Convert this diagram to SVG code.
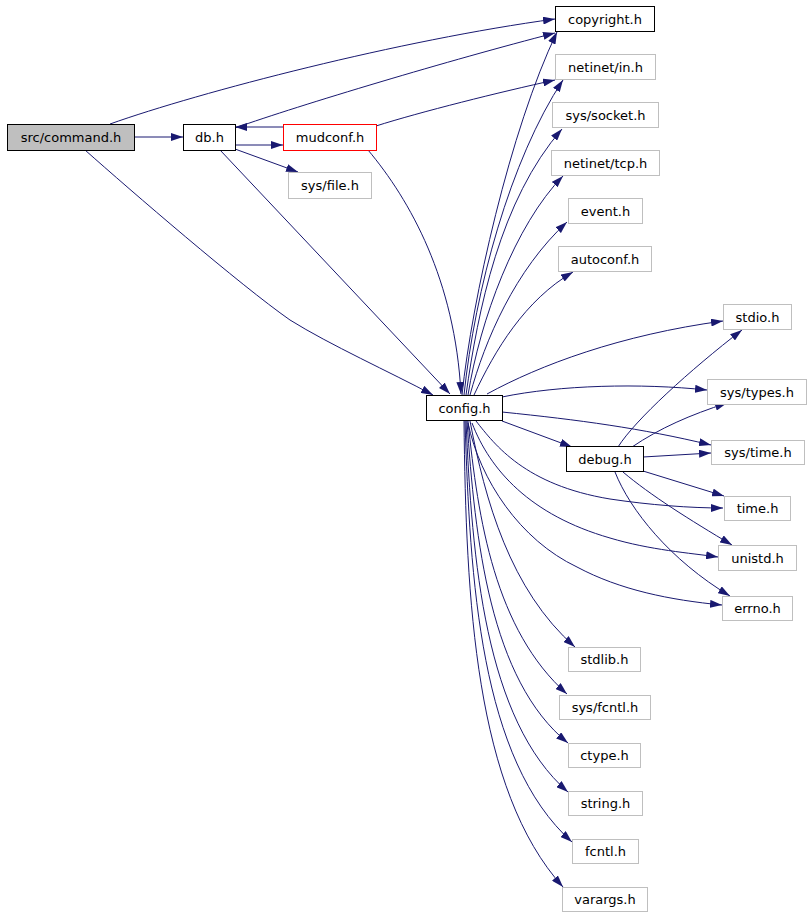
<svg xmlns="http://www.w3.org/2000/svg" width="811" height="915" viewBox="0 0 811 915">
<style>
.n rect{fill:#fff;stroke:#bfbfbf;stroke-width:1}
.n.k rect{stroke:#000}
.n.r rect{stroke:#ff0000}
.n.g rect{fill:#bfbfbf;stroke:#000}
.n text{font-family:"DejaVu Sans",sans-serif;font-size:13px;text-anchor:middle;fill:#000}
#edges path{fill:none;stroke:#191970;stroke-width:1;marker-end:url(#a)}
</style>
<defs>
<marker id="a" markerUnits="userSpaceOnUse" markerWidth="12" markerHeight="8" refX="12" refY="4" orient="auto"><path d="M0,0 L12,4 L0,8 z" fill="#191970"/></marker>
</defs>
<rect width="811" height="915" fill="#fff"/>
<g id="edges">
<path d="M134,137 L183,137"/>
<path d="M110,124 C200,92 400,40 555,19"/>
<path d="M85,150 C130,190 240,285 290,320 C330,345 390,372 433,395"/>
<path d="M220,150 L450,394"/>
<path d="M235,145 L283,145"/>
<path d="M283,127 L235,127"/>
<path d="M235,149 L298,172"/>
<path d="M235,128 C300,105 450,60 555,33"/>
<path d="M376,126 C420,112 500,92 555,80"/>
<path d="M368,150 C410,200 455,280 461,394"/>
<path d="M462,395 C472,300 510,130 557,32"/>
<path d="M464,395 C475,290 510,160 563,80"/>
<path d="M466,395 C478,310 500,200 562,129"/>
<path d="M468,395 C480,320 515,225 563,176"/>
<path d="M470,395 C485,340 515,270 567,222"/>
<path d="M474,395 C495,350 525,300 573,272"/>
<path d="M487,394 C540,365 620,335 723,321"/>
<path d="M502,397 C560,385 640,383 707,390"/>
<path d="M502,412 C580,420 640,428 711,445"/>
<path d="M502,421 L572,447"/>
<path d="M476,421 C495,445 525,485 610,499 C650,505 690,508 723,508"/>
<path d="M472,423 C490,470 530,515 610,538 C650,550 690,553 718,557"/>
<path d="M468,423 C480,480 520,540 577,567 C620,590 670,600 722,605"/>
<path d="M618,447 C635,420 690,370 742,330"/>
<path d="M632,447 C660,428 690,415 727,403"/>
<path d="M643,457 L711,453"/>
<path d="M643,471 L724,496"/>
<path d="M623,472 C650,495 690,520 732,545"/>
<path d="M615,472 C630,510 670,560 730,596"/>
<path d="M470,421 C485,500 510,590 575,647"/>
<path d="M468,421 C478,520 495,630 567,694"/>
<path d="M467,421 C475,540 490,680 568,743"/>
<path d="M466,421 C472,560 485,720 568,792"/>
<path d="M465,421 C470,580 480,760 572,842"/>
<path d="M464,421 C466,600 475,790 563,887"/>
</g>
<g id="n_command" class="n g"><rect x="7.5" y="124.5" width="127" height="26"/><text x="71" y="142">src/command.h</text></g>
<g id="n_db" class="n k"><rect x="183.5" y="124.5" width="52" height="26"/><text x="209.5" y="142">db.h</text></g>
<g id="n_mudconf" class="n r"><rect x="283.5" y="124.5" width="93" height="26"/><text x="330" y="142">mudconf.h</text></g>
<g id="n_sysfile" class="n"><rect x="288.5" y="172.5" width="83" height="26"/><text x="330" y="190">sys/file.h</text></g>
<g id="n_copyright" class="n k"><rect x="555.5" y="6.5" width="99" height="25"/><text x="605" y="23.5">copyright.h</text></g>
<g id="n_netinetin" class="n"><rect x="555.5" y="54.5" width="100" height="25"/><text x="605.5" y="71.5">netinet/in.h</text></g>
<g id="n_syssocket" class="n"><rect x="552.5" y="102.5" width="106" height="25"/><text x="605.5" y="119.5">sys/socket.h</text></g>
<g id="n_netinettcp" class="n"><rect x="551.5" y="150.5" width="108" height="25"/><text x="605.5" y="167.5">netinet/tcp.h</text></g>
<g id="n_event" class="n"><rect x="568.5" y="198.5" width="74" height="25"/><text x="605.5" y="215.5">event.h</text></g>
<g id="n_autoconf" class="n"><rect x="558.5" y="246.5" width="93" height="25"/><text x="605" y="263.5">autoconf.h</text></g>
<g id="n_stdio" class="n"><rect x="723.5" y="304.5" width="68" height="25"/><text x="757.5" y="321.5">stdio.h</text></g>
<g id="n_systypes" class="n"><rect x="707.5" y="379.5" width="99" height="25"/><text x="757" y="396.5">sys/types.h</text></g>
<g id="n_config" class="n k"><rect x="426.5" y="395.5" width="76" height="25"/><text x="464.5" y="412.5">config.h</text></g>
<g id="n_systime" class="n"><rect x="711.5" y="440.5" width="93" height="24"/><text x="758" y="457">sys/time.h</text></g>
<g id="n_debug" class="n k"><rect x="566.5" y="446.5" width="77" height="25"/><text x="605" y="463.5">debug.h</text></g>
<g id="n_time" class="n"><rect x="724.5" y="496.5" width="66" height="24"/><text x="757.5" y="513">time.h</text></g>
<g id="n_unistd" class="n"><rect x="718.5" y="545.5" width="78" height="25"/><text x="757.5" y="562.5">unistd.h</text></g>
<g id="n_errno" class="n"><rect x="722.5" y="596.5" width="70" height="24"/><text x="757.5" y="613">errno.h</text></g>
<g id="n_stdlib" class="n"><rect x="568.5" y="647.5" width="72" height="24"/><text x="604.5" y="664">stdlib.h</text></g>
<g id="n_sysfcntl" class="n"><rect x="559.5" y="695.5" width="91" height="24"/><text x="605" y="712">sys/fcntl.h</text></g>
<g id="n_ctype" class="n"><rect x="568.5" y="743.5" width="72" height="24"/><text x="604.5" y="760">ctype.h</text></g>
<g id="n_string" class="n"><rect x="568.5" y="791.5" width="74" height="24"/><text x="605.5" y="808">string.h</text></g>
<g id="n_fcntl" class="n"><rect x="572.5" y="839.5" width="66" height="24"/><text x="605.5" y="856">fcntl.h</text></g>
<g id="n_varargs" class="n"><rect x="562.5" y="887.5" width="85" height="24"/><text x="605" y="904">varargs.h</text></g>
</svg>
